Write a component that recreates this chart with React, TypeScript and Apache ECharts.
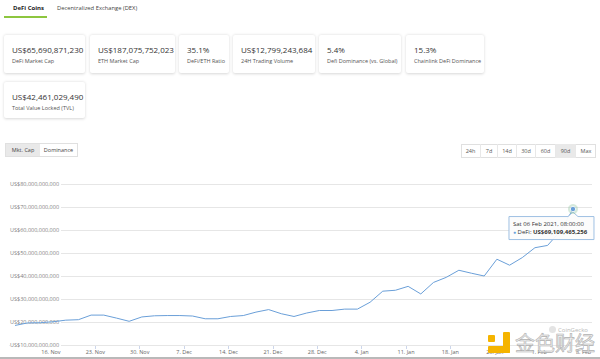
import React, { useEffect, useRef } from 'react';
import * as echarts from 'echarts';

// ---- data ----
const pointDates = [
  '2020-11-10', '2020-11-12', '2020-11-14', '2020-11-16', '2020-11-18', '2020-11-20',
  '2020-11-22', '2020-11-24', '2020-11-26', '2020-11-28', '2020-11-30',
  '2020-12-02', '2020-12-04', '2020-12-06', '2020-12-08', '2020-12-10', '2020-12-12',
  '2020-12-14', '2020-12-16', '2020-12-18', '2020-12-20', '2020-12-22', '2020-12-24',
  '2020-12-26', '2020-12-28', '2020-12-30',
  '2021-01-01', '2021-01-03', '2021-01-05', '2021-01-07', '2021-01-09', '2021-01-11',
  '2021-01-13', '2021-01-15', '2021-01-17', '2021-01-19', '2021-01-21', '2021-01-23',
  '2021-01-25', '2021-01-27', '2021-01-29', '2021-01-31',
  '2021-02-02', '2021-02-04', '2021-02-06',
];
// DeFi market cap, billions of USD
const defiCapBillions = [
  18.5, 19.6, 19.7, 20.1, 20.8, 21.0,
  23.0, 23.0, 21.7, 20.3, 22.2,
  22.7, 22.8, 22.8, 22.6, 21.4, 21.4,
  22.4, 22.8, 24.3, 25.4, 23.6, 22.4,
  23.9, 25.0, 25.0,
  25.6, 25.6, 28.6, 33.4, 33.8, 35.5,
  32.2, 37.2, 39.4, 42.5, 41.2, 40.0,
  47.3, 44.7, 48.0, 52.3,
  53.3, 59.5, 69.109465256,
];
const tickDates = [
  '2020-11-16', '2020-11-23', '2020-11-30', '2020-12-07', '2020-12-14', '2020-12-21',
  '2020-12-28', '2021-01-04', '2021-01-11', '2021-01-18', '2021-01-25', '2021-02-01', '2021-02-08',
];
const yTicks = [10, 20, 30, 40, 50, 60, 70, 80]; // billions

const statValues = [
  'US$65,690,871,230', 'US$187,075,752,023', '35.1%', 'US$12,799,243,684', '5.4%', '15.3%',
  'US$42,461,029,490',
];
const statLabels = [
  'DeFi Market Cap', 'ETH Market Cap', 'DeFi/ETH Ratio', '24H Trading Volume',
  'Defi Dominance (vs. Global)', 'Chainlink DeFi Dominance', 'Total Value Locked (TVL)',
];
const rangeButtons = ['24h', '7d', '14d', '30d', '60d', '90d', 'Max'];

// ---- layout ----
const cardBoxes = [
  { l: 4, t: 35, w: 81, h: 38 },
  { l: 90, t: 35, w: 85, h: 38 },
  { l: 179, t: 35, w: 50, h: 38 },
  { l: 233, t: 35, w: 82, h: 38 },
  { l: 319, t: 35, w: 82, h: 38 },
  { l: 406, t: 35, w: 78, h: 38 },
  { l: 4, t: 82, w: 81, h: 36 },
];
const rangeWidths = [19, 17, 19, 19, 20, 20, 21];

const LINE = '#6a9fd8';
const FONT = '"Open Sans", "Noto Sans", sans-serif';
const MONTHS = ['Jan', 'Feb', 'Mar', 'Apr', 'May', 'Jun', 'Jul', 'Aug', 'Sep', 'Oct', 'Nov', 'Dec'];
const DAYS = ['Sun', 'Mon', 'Tue', 'Wed', 'Thu', 'Fri', 'Sat'];

const toTime = (s: string, h = 0) => {
  const [y, m, d] = s.split('-').map(Number);
  return Date.UTC(y, m - 1, d, h);
};
const pad = (n: number) => (n < 10 ? '0' + n : '' + n);
const fmtUSD = (v: number) => 'US$' + Math.round(v).toLocaleString('en-US');

export default function App() {
  const ref = useRef<HTMLDivElement>(null);

  useEffect(() => {
    document.body.style.margin = '0';
    if (!ref.current) return;
    const chart = echarts.init(ref.current, undefined, { renderer: 'svg' });
    const times = pointDates.map((d) => toTime(d, 8));
    const data = times.map((t, i) => [t, defiCapBillions[i] * 1e9]);
    const tickTimes = tickDates.map((d) => toTime(d));
    const option: any = {
      animation: false,
      grid: { left: 10, right: 8, top: 184, bottom: 14 },
      xAxis: {
        type: 'value',
        min: Date.UTC(2020, 10, 9, 13),
        max: Date.UTC(2021, 1, 9, 8),
        axisLine: { show: true, lineStyle: { color: '#ccd6eb', width: 1 } },
        axisTick: {
          show: true,
          length: 4,
          lineStyle: { color: '#ccd6eb' },
          customValues: tickTimes,
        },
        axisLabel: {
          customValues: tickTimes,
          formatter: (v: number) => {
            const d = new Date(v);
            return d.getUTCDate() + '. ' + MONTHS[d.getUTCMonth()];
          },
          fontSize: 5.5,
          fontFamily: FONT,
          color: '#666',
          margin: 4,
          showMinLabel: true,
          showMaxLabel: true,
        },
        splitLine: { show: false },
      },
      yAxis: {
        type: 'value',
        min: yTicks[0] * 1e9,
        max: yTicks[yTicks.length - 1] * 1e9,
        interval: 10e9,
        axisLine: { show: false },
        axisTick: { show: false },
        axisLabel: {
          inside: true,
          margin: 0,
          fontSize: 5.5,
          fontFamily: FONT,
          color: '#808080',
          backgroundColor: '#fff',
          padding: [0, 2, 2, 0],
          formatter: (v: number) => fmtUSD(v),
        },
        splitLine: { lineStyle: { color: '#e6e6e6', width: 1 } },
        z: 3,
      },
      series: [
        {
          type: 'line',
          name: 'DeFi',
          data,
          showSymbol: false,
          lineStyle: { color: LINE, width: 1 },
          itemStyle: { color: LINE },
          z: 10,
        },
      ],
    };
    chart.setOption(option);

    const li = data.length - 1;
    const pt = chart.convertToPixel({ seriesIndex: 0 }, data[li] as any) as number[];
    const px = pt[0];
    const py = pt[1];
    const lt = new Date(times[li]);
    const dateStr =
      DAYS[lt.getUTCDay()] + ' ' + pad(lt.getUTCDate()) + ' ' + MONTHS[lt.getUTCMonth()] + ' ' +
      lt.getUTCFullYear() + ', ' + pad(lt.getUTCHours()) + ':' + pad(lt.getUTCMinutes()) + ':00';
    const L = px - 64;
    const R = px + 21;
    const T = py + 7.5;
    const B = py + 30.5;
    chart.setOption({
      graphic: [
        {
          type: 'polygon',
          z: 20,
          shape: {
            points: [
              [L, T], [px - 5, T], [px, py + 3], [px + 5, T], [R, T], [R, B], [L, B],
            ],
          },
          style: { fill: 'rgba(252,252,252,0.95)', stroke: '#9fc0e3', lineWidth: 1 },
        },
        {
          type: 'text',
          z: 21,
          x: L + 4,
          y: T + 7,
          style: {
            text: dateStr,
            fontSize: 6,
            fontFamily: FONT,
            fill: '#333',
            verticalAlign: 'middle',
          },
        },
        {
          type: 'text',
          z: 21,
          x: L + 4,
          y: T + 15.5,
          style: {
            text: '{a|●} DeFi: {b|' + fmtUSD(defiCapBillions[li] * 1e9) + '}',
            fontSize: 6,
            fontFamily: FONT,
            fill: '#333',
            verticalAlign: 'middle',
            rich: {
              a: { fill: LINE, fontSize: 5, fontFamily: FONT },
              b: { fontWeight: 'bold', fontSize: 6, fontFamily: FONT, fill: '#333' },
            },
          },
        },
        {
          type: 'circle',
          z: 22,
          shape: { cx: px, cy: py, r: 5 },
          style: { fill: 'rgba(150,200,165,0.4)' },
        },
        {
          type: 'circle',
          z: 23,
          shape: { cx: px, cy: py, r: 2.6 },
          style: { fill: LINE, stroke: '#fff', lineWidth: 0.8 },
        },
      ],
    });
    return () => chart.dispose();
  }, []);

  const abs = (l: number, t: number, extra: any = {}) => ({ position: 'absolute' as const, left: l, top: t, ...extra });

  let rx = 461;
  const rangeLefts = rangeWidths.map((w) => {
    const l = rx;
    rx += w;
    return l;
  });

  return (
    <div style={{ position: 'relative', width: 600, height: 359, overflow: 'hidden', background: '#fff', fontFamily: FONT }}>
      <div ref={ref} style={{ position: 'absolute', left: 0, top: 0, width: 600, height: 359 }} />

      {/* tabs */}
      <div style={abs(13, 3, { fontSize: 6, fontWeight: 700, color: '#222', lineHeight: '10px' })}>DeFi Coins</div>
      <div style={abs(4, 16, { width: 43, height: 1.5, background: '#8dc63f' })} />
      <div style={abs(57, 3, { fontSize: 5.8, color: '#444', lineHeight: '10px' })}>Decentralized Exchange (DEX)</div>

      {/* stat cards */}
      {cardBoxes.map((b, i) => (
        <div
          key={i}
          style={abs(b.l, b.t, {
            width: b.w,
            height: b.h,
            background: '#fff',
            borderRadius: 2,
            boxShadow: '0 0.5px 3px rgba(0,0,0,0.16)',
          })}
        >
          <div style={abs(8, 9, { fontSize: 8, color: '#333', lineHeight: '12px', whiteSpace: 'nowrap' })}>
            {statValues[i]}
          </div>
          <div style={abs(8, 22, { fontSize: 5.5, color: '#555', lineHeight: '8px', whiteSpace: 'nowrap' })}>
            {statLabels[i]}
          </div>
        </div>
      ))}

      {/* Mkt. Cap / Dominance */}
      <div style={abs(5, 143, { width: 73, height: 14, border: '0.5px solid #e0e0e0', boxSizing: 'border-box', display: 'flex' })}>
        <div style={{ width: 34, background: '#e9e9e9', fontSize: 5.5, color: '#444', textAlign: 'center', lineHeight: '13px' }}>Mkt. Cap</div>
        <div style={{ flex: 1, fontSize: 5.5, color: '#444', textAlign: 'center', lineHeight: '13px' }}>Dominance</div>
      </div>

      {/* range buttons */}
      <div style={abs(461, 144, { width: 135, height: 14, border: '0.5px solid #e0e0e0', boxSizing: 'border-box' })} />
      {rangeButtons.map((r, i) => (
        <div
          key={r}
          style={abs(rangeLefts[i], 144, {
            width: rangeWidths[i],
            height: 14,
            boxSizing: 'border-box',
            borderLeft: i > 0 ? '0.5px solid #e8e8e8' : 'none',
            background: r === '90d' ? '#e9e9e9' : 'transparent',
            fontSize: 5.5,
            color: '#555',
            textAlign: 'center',
            lineHeight: '14px',
          })}
        >
          {r}
        </div>
      ))}

      {/* watermarks */}
      <div style={abs(549, 326, { width: 7, height: 7, borderRadius: '50%', background: '#e4e4e4' })} />
      <div style={abs(558, 326, { fontSize: 6, color: '#b8b8b8', lineHeight: '8px' })}>CoinGecko</div>
      <div style={abs(488, 335, { width: 7, height: 7, background: '#f5b400', borderRadius: 1 })} />
      <div style={abs(503, 332, { width: 7, height: 21, background: '#f5b400', borderRadius: 1 })} />
      <div style={abs(488, 346, { width: 22, height: 7, background: '#f5b400', borderRadius: 1 })} />
      <div
        style={abs(515, 331, {
          fontSize: 20,
          lineHeight: '24px',
          fontFamily: '"Noto Sans CJK SC", sans-serif',
          color: 'rgba(235,235,235,0.85)',
          WebkitTextStroke: '0.6px #b0b0b0',
          letterSpacing: 0,
        })}
      >
        金色财经
      </div>

      {/* bottom edge */}
      <div style={abs(0, 357, { width: 600, height: 2, background: '#b9b9b9' })} />
    </div>
  );
}
